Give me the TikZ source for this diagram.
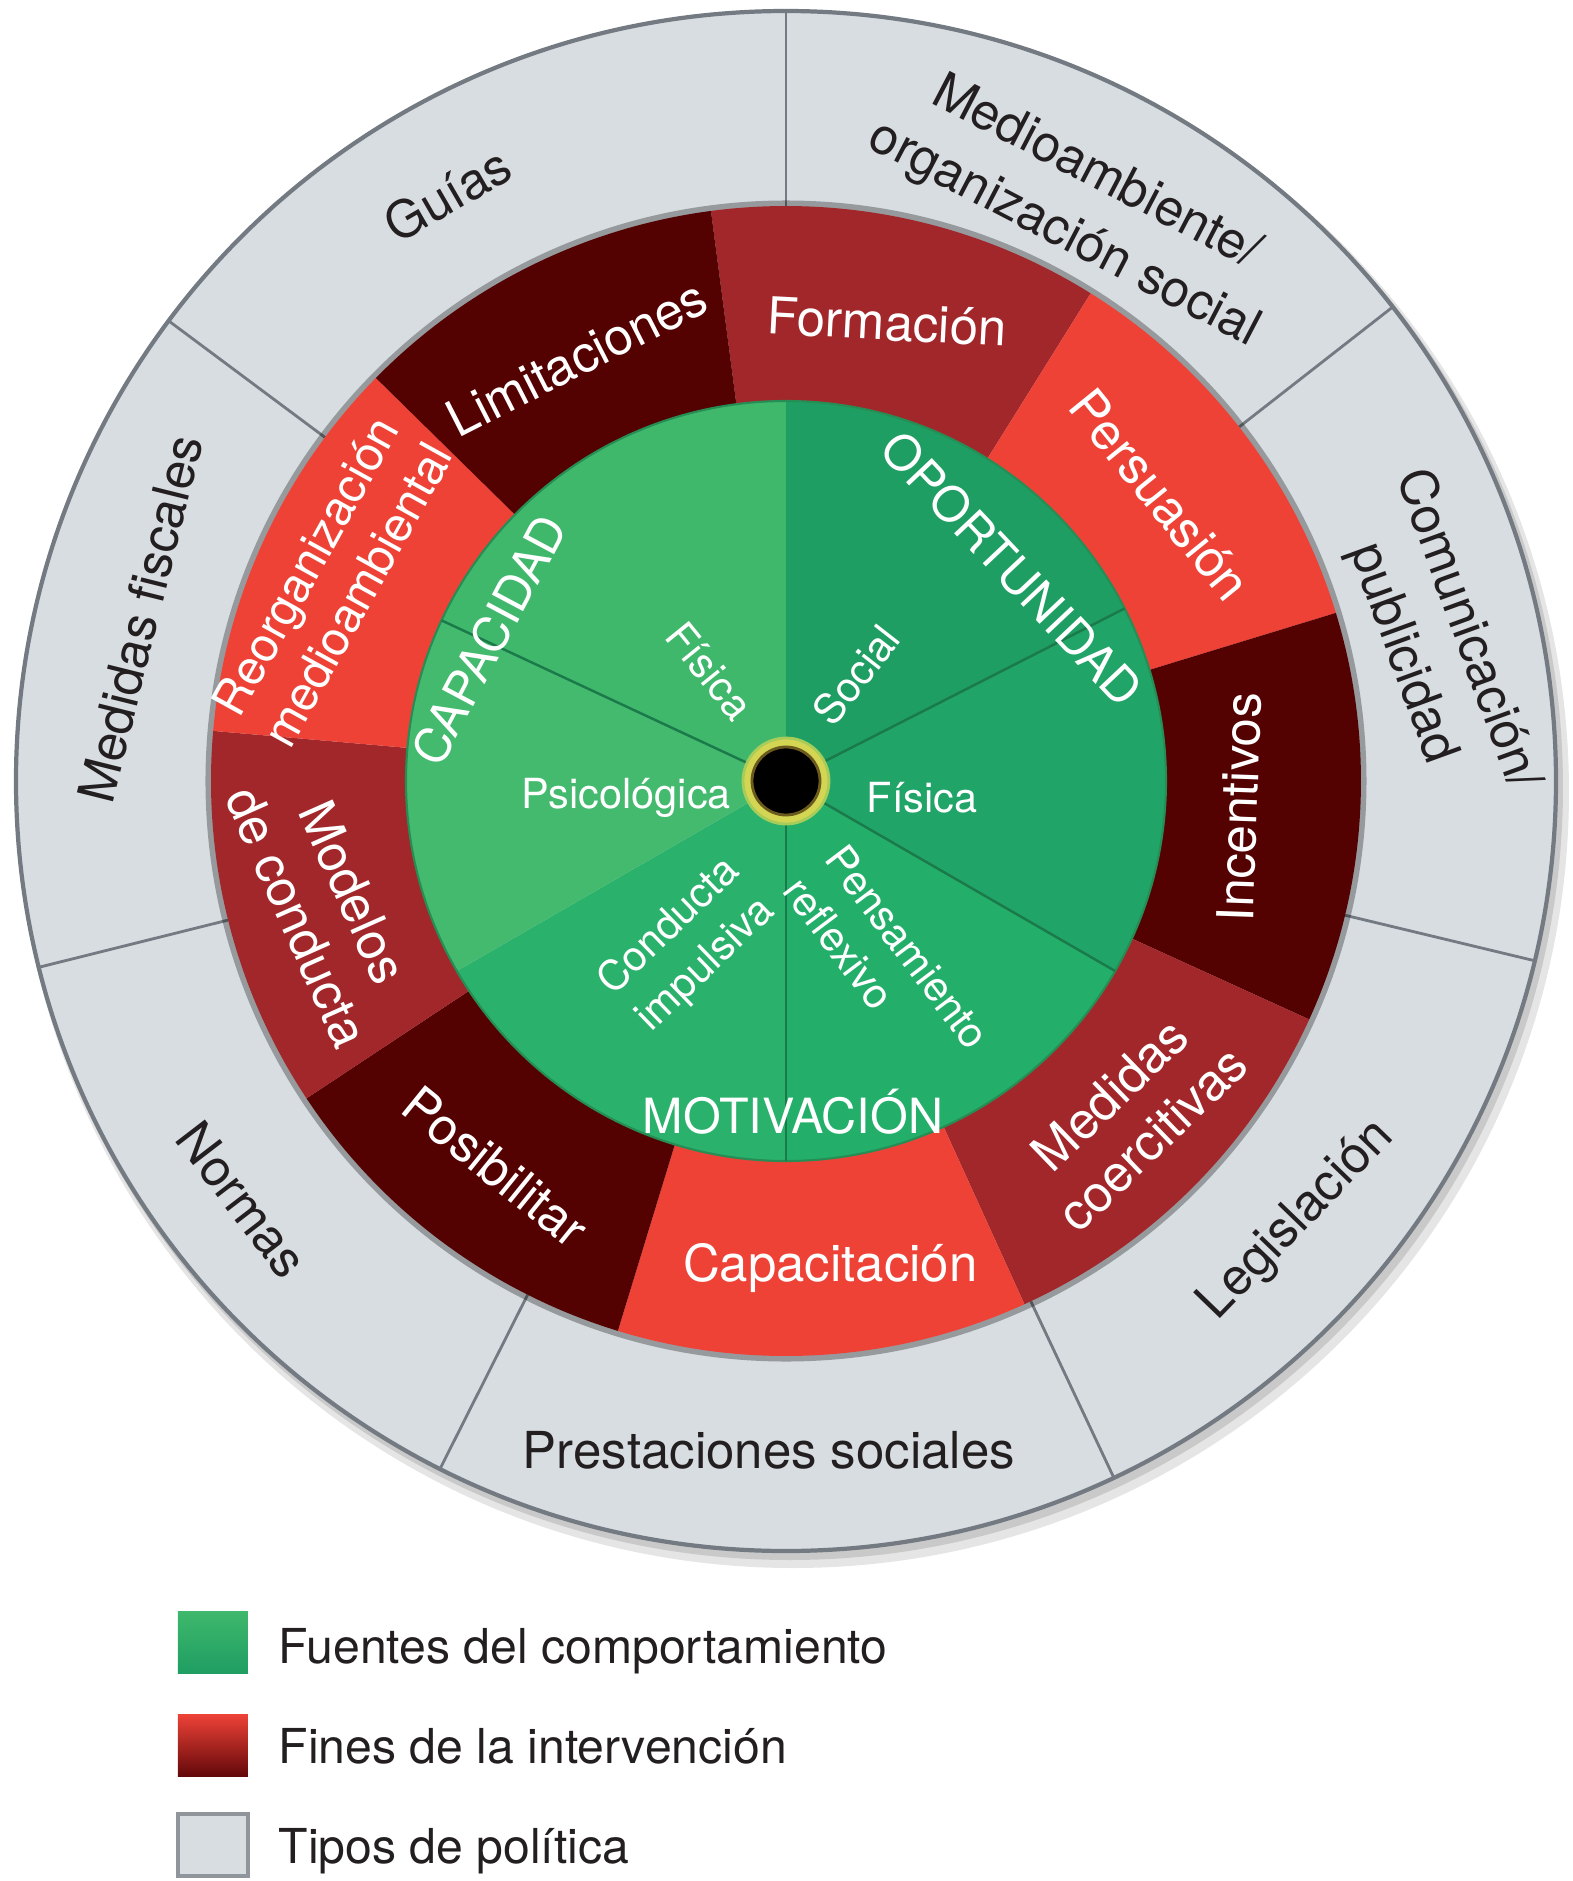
\documentclass[tikz,border=0pt]{standalone}
\usepackage{fontspec}
\setmainfont{TeX Gyre Heros}
\usetikzlibrary{calc}

\definecolor{polgray}{HTML}{D8DDE2}
\definecolor{polrim}{HTML}{737A82}
\definecolor{txtdark}{HTML}{231F20}
\definecolor{reddark}{HTML}{540102}
\definecolor{redmid}{HTML}{A2272B}
\definecolor{redlight}{HTML}{EE4237}
\definecolor{capA}{HTML}{3FB86C}
\definecolor{capB}{HTML}{44BA6E}
\definecolor{opoA}{HTML}{1F9E63}
\definecolor{opoB}{HTML}{21A468}
\definecolor{motA}{HTML}{23AF6A}
\definecolor{motB}{HTML}{2AB26C}
\definecolor{greenline}{HTML}{1B7A4A}
\definecolor{hubyellow}{HTML}{D4D552}
\definecolor{hubbrown}{HTML}{6B5A1E}

% ring piece: colour, start angle, end angle, inner radius, outer radius
\newcommand{\wheelpart}[5]{%
  \fill[#1] (#2:#4) arc[start angle=#2, end angle=#3, radius=#4]
    -- (#3:#5) arc[start angle=#3, end angle=#2, radius=#5] -- cycle;}

\tikzset{
  graytxt/.style={text=txtdark, align=center, inner sep=0pt,
    font=\fontsize{14.5}{19.5}\selectfont},
  redtxt/.style={text=white, align=center, inner sep=0pt,
    font=\fontsize{14.5}{17.5}\selectfont},
  greenbig/.style={text=white, inner sep=0pt,
    font=\fontsize{13.8}{16}\selectfont},
  greensmall/.style={text=white, align=center, inner sep=0pt,
    font=\fontsize{11.8}{15}\selectfont},
  legtxt/.style={text=txtdark, inner sep=0pt, anchor=base west,
    font=\fontsize{13.7}{16}\selectfont},
  legbox/.style={minimum width=0.70cm, minimum height=0.62cm, inner sep=0pt},
  divline/.style={draw=polrim, line width=0.8pt},
  sliceline/.style={draw=greenline, line width=0.7pt}
}

\begin{document}
\begin{tikzpicture}
  \useasboundingbox (-7.86,-11.00) rectangle (7.86,7.81);

  % outer ring: types of policy
  \fill[black, opacity=0.10] (0.07,-0.11) circle (7.76);
  \fill[black, opacity=0.12] (0.04,-0.06) circle (7.73);
  \fill[polgray] (0,0) circle (7.70);
  \draw[polrim, line width=1.2pt] (0,0) circle (7.70);
  \draw[divline] (90:5.75) -- (90:7.70);
  \draw[divline] (38:5.75) -- (38:7.70);
  \draw[divline] (-13.5:5.75) -- (-13.5:7.70);
  \draw[divline] (-64.8:5.75) -- (-64.8:7.70);
  \draw[divline] (243.3:5.75) -- (243.3:7.70);
  \draw[divline] (194:5.75) -- (194:7.70);
  \draw[divline] (143.3:5.75) -- (143.3:7.70);

  % middle ring: intervention functions
  \draw[black, opacity=0.30, line width=2pt] (0,0) circle (5.77);
  \wheelpart{redmid}{97.5}{58}{3.80}{5.75}
  \wheelpart{redlight}{58}{17}{3.80}{5.75}
  \wheelpart{reddark}{17}{-24.5}{3.80}{5.75}
  \wheelpart{redmid}{-24.5}{-65.5}{3.80}{5.75}
  \wheelpart{redlight}{-65.5}{-107}{3.80}{5.75}
  \wheelpart{reddark}{-107}{-146.5}{3.80}{5.75}
  \wheelpart{redmid}{-146.5}{-185}{3.80}{5.75}
  \wheelpart{redlight}{-185}{-224.5}{3.80}{5.75}
  \wheelpart{reddark}{135.5}{97.5}{3.80}{5.75}

  % inner disc: sources of behaviour
  \wheelpart{opoA}{90}{27}{0.01}{3.80}
  \wheelpart{opoB}{27}{-30}{0.01}{3.80}
  \wheelpart{motA}{-30}{-90}{0.01}{3.80}
  \wheelpart{motB}{-90}{-150}{0.01}{3.80}
  \wheelpart{capB}{210}{155}{0.01}{3.80}
  \wheelpart{capA}{155}{90}{0.01}{3.80}
  \draw[greenline!70!capA, line width=0.6pt] (0,0) circle (3.80);
  \draw[sliceline] (0,0) -- (155:3.80);
  \draw[sliceline] (0,0) -- (27:3.80);
  \draw[sliceline] (0,0) -- (-30:3.80);
  \draw[sliceline] (0,0) -- (-90:3.80);

  % hub
  \fill[hubyellow] (0,0) circle (0.43);
  \draw[hubyellow!70!capA, line width=0.8pt] (0,0) circle (0.43);
  \fill[black] (0,0) circle (0.33);
  \draw[hubbrown, line width=0.8pt] (0,0) circle (0.34);

  % policy labels
  \node[graytxt, rotate=30] (guias) at (120:6.77) {Guías};
  \node[graytxt, rotate=76] (fiscales) at (165.9:6.66) {Medidas fiscales};
  \node[graytxt, rotate=-52.5] (normas) at (217.6:6.86) {Normas};
  \node[graytxt] (prestaciones) at (-0.17,-6.69) {Prestaciones sociales};
  \node[graytxt, rotate=46] (legislacion) at (-40.7:6.74) {Legislación};
  \node[graytxt, rotate=-70] (comunicacion) at (12.1:6.63) {Comunicación/\\publicidad};
  \node[graytxt, rotate=-27.5] (medioambiente) at (63:6.47) {Medioambiente/\\organización social};

  % intervention labels
  \node[redtxt, rotate=-3] (formacion) at (77.6:4.70) {Formación};
  \node[redtxt, rotate=-51] (persuasion) at (37.4:4.71) {Persuasión};
  \node[redtxt, rotate=88] (incentivos) at (-3.3:4.54) {Incentivos};
  \node[redtxt, rotate=44] (coercitivas) at (-44.2:4.81) {Medidas\\coercitivas};
  \node[redtxt] (capacitacion) at (-84.8:4.89) {Capacitación};
  \node[redtxt, rotate=-39] (posibilitar) at (233:4.83) {Posibilitar};
  \node[redtxt, rotate=-66] (modelos) at (195:4.77) {Modelos\\de conducta};
  \node[redtxt, rotate=61, font=\fontsize{13.6}{17}\selectfont] (reorganizacion) at (156.2:4.97) {Reorganización\\medioambiental};
  \node[redtxt, rotate=27] (limitaciones) at (116.3:4.72) {Limitaciones};

  % source labels
  \node[greenbig, rotate=62] (capacidad) at (154.6:3.29) {CAPACIDAD};
  \node[greenbig, rotate=-46.7] (oportunidad) at (43.2:3.10) {OPORTUNIDAD};
  \node[greenbig] (motivacion) at (0.07,-3.31) {MOTIVACIÓN};
  \node[greensmall, rotate=-51] (fisicacap) at (124.6:1.34) {Física};
  \node[greensmall, rotate=52] (social) at (56.6:1.27) {Social};
  \node[greensmall] (psicologica) at (-1.60,-0.17) {Psicológica};
  \node[greensmall] (fisicaopo) at (1.36,-0.17) {Física};
  \node[greensmall, rotate=44] (impulsiva) at (239.3:1.92) {Conducta\\impulsiva};
  \node[greensmall, rotate=-53, align=left] (reflexivo) at (-61:2.08) {Pensamiento\\reflexivo};

  % legend
  \node[legbox, top color=capA, bottom color=opoA] (boxsources) at (-5.73,-8.61) {};
  \node[legbox, top color=redlight, bottom color=reddark!80!redmid] (boxfunctions) at (-5.73,-9.64) {};
  \node[legbox, fill=polgray, draw=polrim!80, line width=1pt] (boxpolicy) at (-5.73,-10.64) {};
  \node[legtxt] (txtsources) at (-5.08,-8.82) {Fuentes del comportamiento};
  \node[legtxt] (txtfunctions) at (-5.08,-9.82) {Fines de la intervención};
  \node[legtxt] (txtpolicy) at (-5.08,-10.82) {Tipos de política};
\end{tikzpicture}
\end{document}
